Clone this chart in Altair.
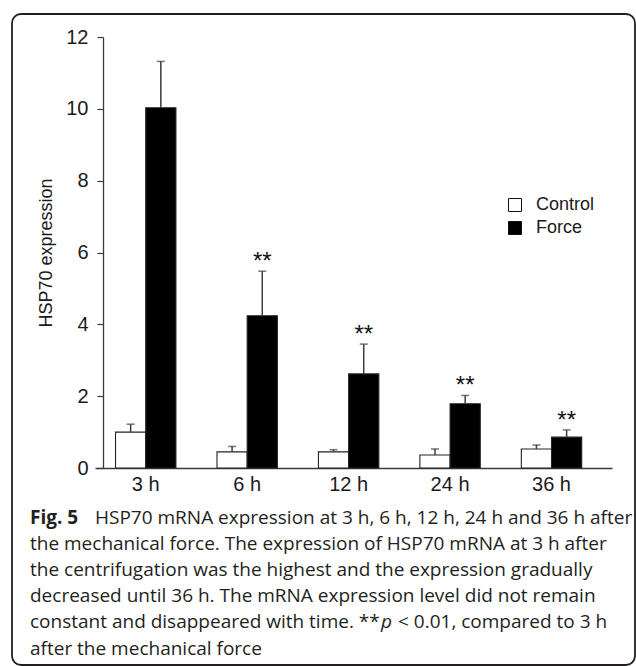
import altair as alt
import pandas as pd

# ---- data ----
times = ["3 h", "6 h", "12 h", "24 h", "36 h"]
groups = ["Control", "Force"]
control_mean = [1.00, 0.45, 0.45, 0.36, 0.53]
control_err = [0.22, 0.15, 0.06, 0.17, 0.11]
force_mean = [10.03, 4.24, 2.62, 1.79, 0.86]
force_err = [1.29, 1.24, 0.83, 0.23, 0.20]
force_sig = ["", "**", "**", "**", "**"]
y_ticks = [0, 2, 4, 6, 8, 10, 12]

caption_bold = "Fig. 5"
caption_lines = [
    "HSP70 mRNA expression at 3 h, 6 h, 12 h, 24 h and 36 h after",
    "the mechanical force. The expression of HSP70 mRNA at 3 h after",
    "the centrifugation was the highest and the expression gradually",
    "decreased until 36 h. The mRNA expression level did not remain",
    "constant and disappeared with time. **",
    "after the mechanical force",
]
caption_p = "p"
caption_tail = "< 0.01, compared to 3 h"

rows = []
for i, t in enumerate(times):
    rows.append(dict(time=t, group="Control", mean=control_mean[i],
                     upper=control_mean[i] + control_err[i], sig=""))
    rows.append(dict(time=t, group="Force", mean=force_mean[i],
                     upper=force_mean[i] + force_err[i], sig=force_sig[i]))
df = pd.DataFrame(rows)

AXIS_FONT = "Liberation Sans, Arial, Helvetica, sans-serif"
CAP_FONT = "Open Sans, Noto Sans, sans-serif"
CAP_SIZE = 19

W, H = 517, 431
PAD_L, PAD_T = 95, 37

xscale = alt.Scale(domain=times, paddingInner=0, paddingOuter=0.048, align=0)
xoff = alt.XOffset("group:N", sort=groups,
                   scale=alt.Scale(domain=groups, paddingInner=0, paddingOuter=0.68))
yscale = alt.Scale(domain=[0, 12], nice=False)

base = alt.Chart(df)

bars = base.mark_bar(stroke="#222222", strokeWidth=1.1).encode(
    x=alt.X("time:N", sort=times, scale=xscale,
            axis=alt.Axis(title=None, ticks=False, labelAngle=0)),
    xOffset=xoff,
    y=alt.Y("mean:Q", scale=yscale,
            axis=alt.Axis(title="HSP70 expression", values=y_ticks, offset=-8, grid=False)),
    fill=alt.Fill("group:N", sort=groups,
                  scale=alt.Scale(domain=groups, range=["#ffffff", "#000000"]),
                  legend=alt.Legend(title=None, orient="none", legendX=411, legendY=159,
                                    symbolType="square", symbolSize=169,
                                    symbolStrokeColor="#111111", symbolStrokeWidth=1,
                                    labelFont=AXIS_FONT, labelFontSize=18,
                                    labelColor="#1a1a1a", labelOffset=12, rowPadding=5)),
)

err = base.mark_rule(color="#3c3c3c", strokeWidth=1.5).encode(
    x=alt.X("time:N", sort=times, scale=xscale),
    xOffset=xoff,
    y=alt.Y("mean:Q", scale=yscale),
    y2="upper:Q",
)

caps = base.mark_tick(color="#3c3c3c", thickness=1.5, size=8).encode(
    x=alt.X("time:N", sort=times, scale=xscale),
    xOffset=xoff,
    y=alt.Y("upper:Q", scale=yscale),
)

stars = base.mark_text(font=AXIS_FONT, fontSize=24, color="#111111",
                       baseline="alphabetic", dy=-2).encode(
    x=alt.X("time:N", sort=times, scale=xscale),
    xOffset=xoff,
    y=alt.Y("upper:Q", scale=yscale),
    text="sig:N",
)

one = alt.Data(values=[{"k": 1}])

frame = alt.Chart(one).mark_rect(filled=False, stroke="#231f20", strokeWidth=1.8,
                                 cornerRadius=9).encode(
    x=alt.value(12 - PAD_L), x2=alt.value(635 - PAD_L),
    y=alt.value(14 - PAD_T), y2=alt.value(665 - PAD_T),
)

LINE0 = 524
LH = 26.1


def cap_text(txt, xpos, line, **kw):
    return alt.Chart(one).mark_text(
        text=txt, font=CAP_FONT, fontSize=CAP_SIZE, align="left",
        baseline="alphabetic", color="#231f20", **kw).encode(
        x=alt.value(xpos - PAD_L), y=alt.value(LINE0 + line * LH - PAD_T))


cap_layers = [cap_text(caption_bold, 30, 0, fontWeight="bold")]
for i, line in enumerate(caption_lines):
    cap_layers.append(cap_text(line, 95 if i == 0 else 30, i))
cap_layers.append(cap_text(caption_p, 381, 4, fontStyle="italic"))
cap_layers.append(cap_text(caption_tail, 398, 4))

chart = alt.layer(frame, bars, err, caps, stars, *cap_layers).properties(
    width=W, height=H,
    autosize=alt.AutoSizeParams(type="none"),
    padding={"left": PAD_L, "top": PAD_T, "right": 636 - PAD_L - W,
             "bottom": 666 - PAD_T - H},
    background="white",
).configure_view(stroke=None).configure_axis(
    labelFont=AXIS_FONT, labelFontSize=20, labelColor="#1a1a1a",
    domainColor="#3a3a3a", domainWidth=1.3,
    tickColor="#3a3a3a", tickWidth=1.2,
    titleFont=AXIS_FONT, titleFontSize=18, titleFontWeight="normal",
    titleColor="#1a1a1a", grid=False,
).configure_axisY(
    tickSize=6, labelPadding=9, titlePadding=10,
).configure_axisX(
    labelPadding=6,
)

chart.save("out.html", embed_options={"renderer": "svg", "actions": False})
